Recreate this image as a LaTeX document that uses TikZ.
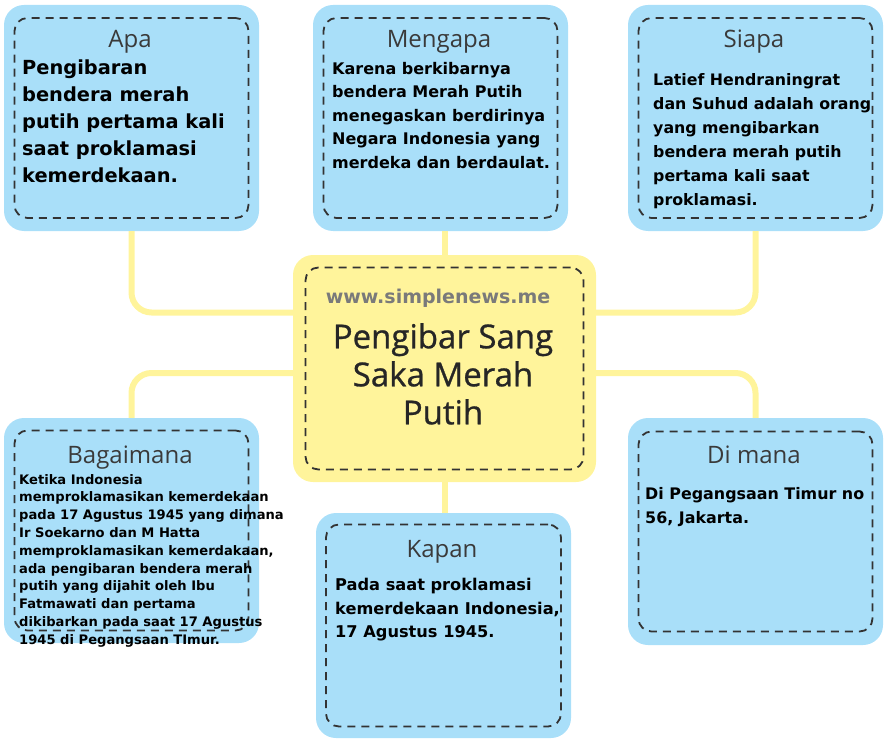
\documentclass[tikz,border=0pt]{standalone}
\usepackage{fontspec}
\setmainfont{DejaVu Sans}
\newfontfamily\headfont{Open Sans}
\newfontfamily\titlefont[FakeBold=0.8]{Open Sans}
\usetikzlibrary{calc}
\definecolor{boxblue}{HTML}{A9DFF9}
\definecolor{boxyellow}{HTML}{FFF49B}
\definecolor{dashgray}{HTML}{333333}
\definecolor{headgray}{HTML}{3A3A3A}
\definecolor{markgray}{HTML}{7A7A7A}
\tikzset{
  outerbox/.style={fill=boxblue, draw=none, rounded corners=20pt, minimum width=255pt, minimum height=226pt, inner sep=0pt},
  centerbox/.style={fill=boxyellow, draw=none, rounded corners=20pt, minimum width=303pt, minimum height=227pt, inner sep=0pt},
  innerbox/.style={draw=dashgray, line width=1.8pt, dash pattern=on 8pt off 6pt, rounded corners=13pt, fill=none, inner sep=0pt},
  conn/.style={draw=boxyellow, line width=6pt, rounded corners=20pt},
  headtxt/.style={anchor=base, inner sep=0pt, text=headgray, font=\headfont\fontsize{24}{28}\selectfont},
  bodytxt/.style={anchor=north west, inner sep=0pt, align=left, text=black},
}
\begin{document}
\begin{tikzpicture}[x=1pt,y=-1pt]
\useasboundingbox (0,0) rectangle (890,743);
% boxes
\node[outerbox] (apa) at (131.5,118) {};
\node[outerbox] (mengapa) at (440.5,118) {};
\node[outerbox] (siapa) at (755.5,118) {};
\node[centerbox] (center) at (444.5,368.5) {};
\node[outerbox, minimum height=225pt] (bagaimana) at (131.5,530.5) {};
\node[outerbox, minimum height=227pt] (dimana) at (755.5,531.5) {};
\node[outerbox, minimum height=225pt] (kapan) at (443.5,625.5) {};
% connectors
\draw[conn] (apa.south) |- ([yshift=56pt]center.west);
\draw[conn] (bagaimana.north) |- ([yshift=-4.5pt]center.west);
\draw[conn] (siapa.south) |- ([yshift=56pt]center.east);
\draw[conn] (dimana.north) |- ([yshift=-4.5pt]center.east);
\draw[conn, rounded corners=0pt] (center.north) -- (center.north |- mengapa.south);
\draw[conn, rounded corners=0pt] (center.south) -- (center.south |- kapan.north);
% inner dashed boxes
\node[innerbox, minimum width=234pt, minimum height=200pt] (apain) at (apa.center) {};
\node[innerbox, minimum width=234pt, minimum height=200pt] (mengapain) at (mengapa.center) {};
\node[innerbox, minimum width=234pt, minimum height=200pt] (siapain) at (siapa.center) {};
\node[innerbox, minimum width=278pt, minimum height=202pt] (centerin) at (center.center) {};
\node[innerbox, minimum width=234pt, minimum height=200pt] (bagaimanain) at (bagaimana.center) {};
\node[innerbox, minimum width=234pt, minimum height=200pt] (dimanain) at (dimana.center) {};
\node[innerbox, minimum width=235pt, minimum height=202pt] (kapanin) at (kapan.center) {};
% headings
\node[headtxt] (h1) at (130,48) {Apa};
\node[headtxt] (h2) at (439,48) {Mengapa};
\node[headtxt] (h3) at (754,48) {Siapa};
\node[headtxt] (h4) at (130,463) {Bagaimana};
\node[headtxt] (h5) at (754,463) {Di mana};
\node[headtxt] (h6) at (442,557) {Kapan};
% body texts
\node[bodytxt, font=\bfseries\fontsize{19.4}{27}\selectfont] (t1) at (22,60)
  {Pengibaran\\bendera merah\\putih pertama kali\\saat proklamasi\\kemerdekaan.};
\node[bodytxt, font=\bfseries\fontsize{16}{23.5}\selectfont] (t2) at (332,62)
  {Karena berkibarnya\\bendera Merah Putih\\menegaskan berdirinya\\Negara Indonesia yang\\merdeka dan berdaulat.};
\node[bodytxt, font=\bfseries\fontsize{15.8}{24}\selectfont] (t3) at (653,73)
  {Latief Hendraningrat\\dan Suhud adalah orang\\yang mengibarkan\\bendera merah putih\\pertama kali saat\\proklamasi.};
\node[bodytxt, font=\bfseries\fontsize{13.1}{17.8}\selectfont] (t4) at (19,474)
  {Ketika Indonesia\\memproklamasikan kemerdekaan\\pada 17 Agustus 1945 yang dimana\\Ir Soekarno dan M Hatta\\memproklamasikan kemerdakaan,\\ada pengibaran bendera merah\\putih yang dijahit oleh Ibu\\Fatmawati dan pertama\\dikibarkan pada saat 17 Agustus\\1945 di Pegangsaan TImur.};
\node[bodytxt, font=\bfseries\fontsize{15.9}{24}\selectfont] (t5) at (645,487)
  {Di Pegangsaan Timur no\\56, Jakarta.};
\node[bodytxt, font=\bfseries\fontsize{16.2}{23.5}\selectfont] (t6) at (335,578)
  {Pada saat proklamasi\\kemerdekaan Indonesia,\\17 Agustus 1945.};
% center
\node[anchor=base, inner sep=0pt, text=markgray, font=\bfseries\fontsize{19}{24}\selectfont] (mark) at (438,303) {www.simplenews.me};
\node[anchor=north, inner sep=0pt, align=center, text=black!85, font=\titlefont\fontsize{33}{38}\selectfont] (title) at (443,323)
  {Pengibar Sang\\Saka Merah\\Putih};
\end{tikzpicture}
\end{document}
